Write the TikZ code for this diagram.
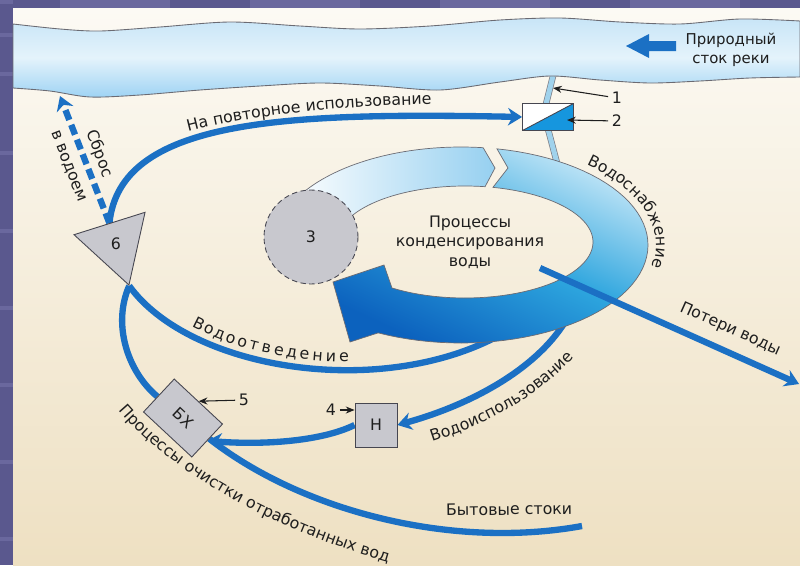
\documentclass[tikz,border=0pt]{standalone}
\usepackage{fontspec}
\setmainfont{DejaVu Sans}
\usetikzlibrary{arrows.meta,shapes.geometric,decorations.text}
\definecolor{cfond}{RGB}{90,88,142}
\definecolor{cstrie}{RGB}{106,104,158}
\definecolor{cclair}{RGB}{252,250,244}
\definecolor{csable}{RGB}{238,224,194}
\definecolor{ceau1}{RGB}{200,229,247}
\definecolor{ceau2}{RGB}{228,243,251}
\definecolor{ceau3}{RGB}{158,211,244}
\definecolor{cbleu}{RGB}{27,112,196}
\definecolor{cbleuvif}{RGB}{22,150,222}
\definecolor{ctuyau}{RGB}{160,210,236}
\definecolor{cgris}{RGB}{200,200,206}
\definecolor{ctrait}{RGB}{70,70,80}
\definecolor{ctexte}{RGB}{30,30,30}
\definecolor{cann}{RGB}{150,208,240}
\definecolor{cannh}{RGB}{195,230,247}
\definecolor{cannm}{RGB}{45,165,222}
\definecolor{canns}{RGB}{12,98,190}
\newcommand\etiq{\fontsize{9}{11}\selectfont}
\pgfdeclarelayer{fond}
\pgfdeclarelayer{flux}
\pgfsetlayers{fond,flux,main}
\tikzset{
  ligne/.style={line width=3.6pt, cbleu},
  fleche/.style={ligne, -{Stealth[length=8pt,width=10pt]}},
  bloc/.style={draw=ctrait, fill=cgris, line width=0.5pt, inner sep=0pt, font=\etiq, text=ctexte},
  repere/.style={font=\etiq, text=ctexte, inner sep=2pt},
  fin/.style={ctexte, line width=0.6pt, -{Stealth[length=5pt,width=4pt]}},
  legende/.style={font=\etiq, text=ctexte},
  lettre/.style={font=\etiq, text=ctexte, inner sep=0pt, text height=1.6ex, text depth=0.3ex, sloped, above=3pt},
  courbe/.style={decorate, decoration={text along path, text align=center, text color=ctexte, text={|\etiq|#1}}}
}
\begin{document}
\begin{tikzpicture}[x=0.02cm, y=-0.02cm, >=Stealth]
\useasboundingbox (0,0) rectangle (800,565);
\begin{pgfonlayer}{fond}
\fill[cfond] (0,0) rectangle (800,565);
\foreach \y in {0,33,72,151,229,306,383,460,537} \fill[cstrie] (0,\y) rectangle (13,\y+4);
\foreach \x in {60,250,440,630} \fill[cstrie] (\x,0) rectangle (\x+110,8);
\shade[top color=cclair, bottom color=csable] (13,8) rectangle (800,565);
\draw[ctrait!70, line width=0.4pt, double=ctuyau, double distance=0.1cm] (553,76) -- (546,104);
\draw[ctrait!70, line width=0.4pt, double=ctuyau, double distance=0.1cm] (548,129) -- (557,163);
\path[draw=ctrait!80, line width=0.5pt, top color=ceau1, bottom color=ceau3, middle color=ceau2]
  plot[smooth] coordinates {(13,24) (60,29) (100,31) (160,27) (230,22) (300,26) (360,29) (430,26) (500,20) (560,18) (620,22) (680,24) (740,19) (800,21)}
  -- plot[smooth] coordinates {(800,77) (750,78) (700,81) (650,83) (600,80) (550,76) (500,82) (440,90) (380,86) (320,83) (260,86) (200,90) (140,95) (90,97) (50,91) (13,88)} -- cycle;
\fill[cbleu] (626,46) -- (649,34) -- (649,41) -- (676,41) -- (676,51) -- (649,51) -- (649,58) -- cycle;
\node[legende, align=center, font=\fontsize{8.5}{10.5}\selectfont] (source) at (731,50) {Природный\\сток реки};
\end{pgfonlayer}
% anneau
\path[draw=ctrait!80, line width=0.4pt, left color=white, right color=cann]
  plot[domain=-160:-83.2, samples=40] ({461+187*cos(\x)},{245+98*sin(\x)})
  -- (495,168)
  -- plot[domain=-81:-165, samples=40] ({465+128*cos(\x)},{242+56*sin(\x)}) -- cycle;
\path[draw=ctrait!80, line width=0.4pt, top color=cannh, bottom color=canns, middle color=cannm, shading angle=-25]
  plot[domain=-78.9:116.3, samples=60] ({461+187*cos(\x)},{245+98*sin(\x)})
  -- (350,342) -- (333,282) -- (384,265)
  -- plot[domain=124.8:-77.4, samples=60] ({465+128*cos(\x)},{242+56*sin(\x)})
  -- (508,168) -- cycle;
\node[circle, draw=ctrait, densely dashed, fill=cgris, line width=0.5pt, minimum size=1.88cm, font=\etiq, text=ctexte] (condenseur) at (311,237) {3};
\node[legende, align=center] (procede) at (470,242) {Процессы\\конденсирования\\воды};
\node[draw=ctrait, fill=white, line width=0.5pt, minimum width=1.02cm, minimum height=0.54cm, inner sep=0pt,
  path picture={\fill[cbleuvif] (path picture bounding box.south west) -- (path picture bounding box.north east) -- (path picture bounding box.south east) -- cycle;
    \draw[ctrait, line width=0.5pt] (path picture bounding box.south west) -- (path picture bounding box.north east);}] (prise) at (548,117) {};
\node[bloc, regular polygon, regular polygon sides=3, shape border rotate=-162.5, minimum size=1.72cm] (bassin) at (116,244) {6};
\node[bloc, minimum width=0.84cm, minimum height=0.88cm] (pompe) at (376,425) {Н};
\node[bloc, rotate=-43, minimum width=1.32cm, minimum height=0.9cm] (bio) at (183,418) {БХ};
\node[repere] (n1) at (617,98) {1};
\node[repere] (n2) at (617,121) {2};
\node[repere] (n4) at (331,410) {4};
\node[repere] (n5) at (244,400) {5};
\coordinate (p1) at (553,88);
\coordinate (p2) at (567,120);
\coordinate (rejet) at (60,96);
\coordinate (evac) at (500,335);
\coordinate (usage) at (565,322);
\coordinate (menage) at (582,526);
\coordinate (perte) at (540,268);
\coordinate (mer) at (799,384);
\draw[fin] (n1) -- (p1);
\draw[fin] (n2) -- (p2);
\draw[fin] (n4) -- (n4 -| pompe.west);
\draw[fin] (n5) -- (bio.north);
\begin{pgfonlayer}{flux}
\draw[fleche] (bassin.side 2) .. controls (120,120) and (280,112) .. (prise.west);
\draw[fleche, dash pattern=on 6pt off 3pt] (bassin.side 2) -- node[sloped, legende, align=center, font=\fontsize{9}{18.5}\selectfont] (rejetlbl) {Сброс\\в водоем} (rejet);
\draw[ligne] (bassin.corner 1) .. controls (190,370) and (380,400) .. (evac);
\foreach \l/\p [count=\k] in {В/0.240, о/0.272, д/0.303, о/0.335, о/0.367, т/0.398, в/0.430, е/0.462, д/0.494, е/0.525, н/0.557, и/0.589, е/0.620}
  \path (bassin.corner 1) .. controls (190,370) and (380,400) .. (evac) node[lettre, pos=\p] (ev\k) {\l};
\draw[ligne] (bassin.corner 1) .. controls (112,325) and (128,372) .. (bio);
\draw[fleche] (usage) .. controls (535,370) and (470,405) .. (pompe.east);
\draw[fleche] (pompe.west) .. controls (320,442) and (260,445) .. (bio.east);
\draw[ligne] (bio) .. controls (300,510) and (450,550) .. (menage) node[pos=0.82, sloped, above=5pt, legende] (menagelbl) {Бытовые стоки};
\end{pgfonlayer}
\draw[fleche] (perte) -- node[pos=0.7, sloped, above=3pt, legende] (pertelbl) {Потери воды} (mer);
\path[courbe={На повторное использование}] (180,134) .. controls (245,116) and (330,106) .. (440,104);
\path[courbe={Водоснабжение}] plot[domain=-50:12, samples=40] ({461+195*cos(\x)},{245+105*sin(\x)});
\path[courbe={Водоиспользование}] (411,448) .. controls (478,430) and (548,395) .. (588,340);
\path[courbe={Процессы очистки отработанных вод}] (112,402) .. controls (165,470) and (270,530) .. (398,565);
\end{tikzpicture}
\end{document}
